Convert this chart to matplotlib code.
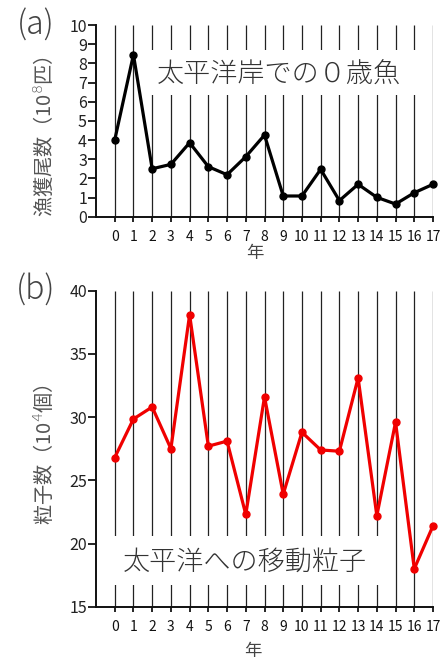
import matplotlib
matplotlib.use("Agg")
import matplotlib.pyplot as plt
from matplotlib.patches import Rectangle

plt.rcParams['font.family'] = ['Noto Sans CJK JP', 'DejaVu Sans']
plt.rcParams['font.weight'] = 'light'

years = list(range(18))
year_labels = [str(y) for y in years]

catch_a = [4.0, 8.45, 2.5, 2.73, 3.86, 2.61, 2.19, 3.13, 4.26, 1.08, 1.08, 2.47,
           0.84, 1.69, 1.01, 0.66, 1.25, 1.69]
particles_b = [26.8, 29.85, 30.8, 27.5, 38.1, 27.7, 28.1, 22.3, 31.6, 23.9, 28.8,
               27.4, 27.3, 33.1, 22.2, 29.6, 18.0, 21.4]

yticks_a = list(range(0, 11))
yticks_b = [15, 20, 25, 30, 35, 40]

title_a = '太平洋岸での０歳魚'
title_b = '太平洋への移動粒子'
ylabel_a = '漁獲尾数（10$^{8}$匹）'
ylabel_b = '粒子数（10$^{4}$個）'
xlabel = '年'

W, H = 443, 661
fig = plt.figure(figsize=(W / 100, H / 100), dpi=100)


def make_axes(left, right, top, bottom):
    return fig.add_axes([left / W, (H - bottom) / H, (right - left) / W, (bottom - top) / H])


def style(ax, ylim, yticks, data, color, title, tx, ty, box, ylabel, ylab_y, panel):
    ax.set_xlim(-1, 17)
    ax.set_ylim(*ylim)
    for s in ['top', 'right']:
        ax.spines[s].set_visible(False)
    for s in ['left', 'bottom']:
        ax.spines[s].set_linewidth(1.4)
        ax.spines[s].set_color('#111111')
        ax.spines[s].set_zorder(5)
    ax.vlines(years, ylim[0], ylim[1], colors='#222222', linewidth=0.9, zorder=1)
    ax.add_patch(Rectangle((box[0], box[1]), box[2] - box[0], box[3] - box[1],
                           facecolor='white', edgecolor='none', zorder=2))
    ax.text(tx, ty, title, fontsize=19.5, color='#333333', ha='center', va='center', zorder=3)
    ax.plot(years, data, color=color, linewidth=2.3, marker='o', markersize=5,
            zorder=4, clip_on=False)
    ax.set_xticks(years)
    ax.set_xticklabels(year_labels, fontsize=10, color='#111111', fontweight='normal')
    ax.set_yticks(yticks)
    ax.set_yticklabels([str(v) for v in yticks], fontsize=11.5, color='#222222',
                       fontweight='normal')
    ax.tick_params(axis='x', direction='out', length=3.6, width=1.2, pad=6)
    ax.tick_params(axis='y', direction='out', length=6, width=1.2, pad=0.5)
    ax.set_ylabel(ylabel, fontsize=14.5, color='#555555')
    ax.yaxis.set_label_coords(-0.12, ylab_y)
    ax.set_xlabel(xlabel, fontsize=12.5, color='#444444')
    ax.text(-0.18, 1.0, panel, transform=ax.transAxes, fontsize=23, color='#444444',
            ha='center', va='center')


ax_a = make_axes(96, 433, 25, 216.7)
style(ax_a, (0, 10), yticks_a, catch_a, 'black', title_a, 8.78, 7.39,
      (1.5, 6.35, 16.5, 8.7), ylabel_a, 0.42, '(a)')
ax_a.xaxis.set_label_coords(0.47, -0.145)

ax_b = make_axes(96, 433, 290.7, 606.7)
style(ax_b, (15, 40), yticks_b, particles_b, '#f00000', title_b, 6.96, 18.54,
      (-0.6, 16.7, 14.5, 20.6), ylabel_b, 0.48, '(b)')
ax_b.xaxis.set_label_coords(0.466, -0.112)

fig.savefig('out.png', dpi=100)
